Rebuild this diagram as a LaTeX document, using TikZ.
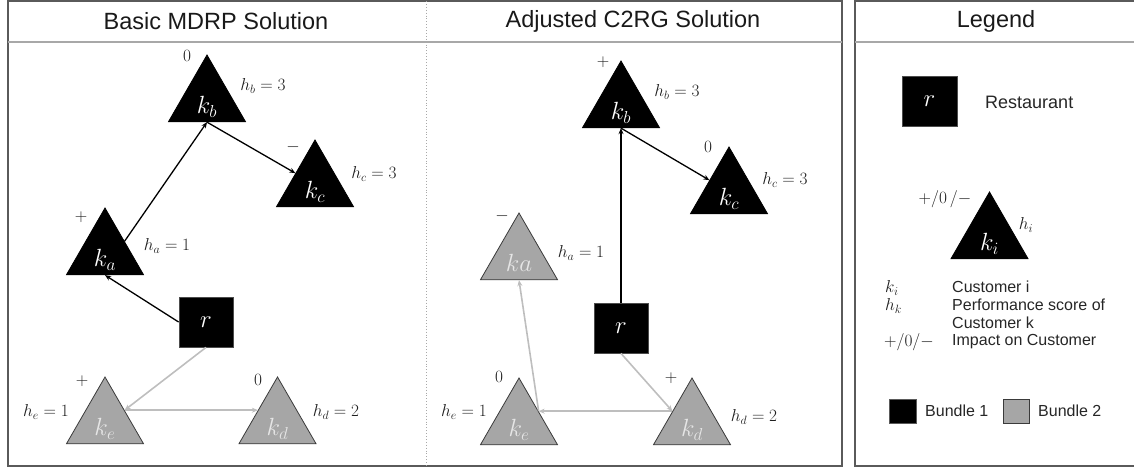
\documentclass[tikz,border=0pt]{standalone}
\usepackage{fontspec}
\setmainfont{Liberation Sans}
\usetikzlibrary{shapes.geometric,arrows.meta}
\definecolor{bgray}{HTML}{A6A6A6}
\definecolor{tborder}{HTML}{3A3A3A}
\definecolor{tlight}{HTML}{E6E6E6}
\definecolor{agray}{HTML}{BEBEBE}
\definecolor{framec}{HTML}{5A5A5A}
\definecolor{hlinec}{HTML}{A8A8A8}
\definecolor{labc}{HTML}{1E1E1E}
\newcommand\trilab[1]{\raisebox{-14pt}[0pt][0pt]{$#1$}}
\begin{document}
\begin{tikzpicture}[x=1pt,y=-1pt,
  tri/.style={regular polygon, regular polygon sides=3, minimum size=89pt, inner sep=0pt, line width=0.8pt, font=\fontsize{25}{28}\selectfont},
  bone/.style={tri, fill=black, draw=black, text=white},
  btwo/.style={tri, fill=bgray, draw=tborder, text=tlight},
  rest/.style={rectangle, fill=black, draw=black!70, line width=0.8pt, minimum width=54pt, minimum height=50pt, inner sep=0pt, text=white, font=\fontsize{26}{30}\selectfont},
  barrow/.style={-{Stealth[length=6pt,width=5pt]}, line width=1.3pt, black},
  garrow/.style={-{Stealth[length=6pt,width=5pt]}, line width=1.6pt, agray},
  hlab/.style={text=labc, font=\fontsize{17}{20}\selectfont, inner sep=0pt},
  slab/.style={text=labc, font=\fontsize{16}{18}\selectfont, inner sep=0pt},
  head/.style={font=\fontsize{23.5}{27}\selectfont, text=black!90, inner sep=0pt},
  ltext/.style={font=\fontsize{16}{18}\selectfont, text=black!85, anchor=west, inner sep=0pt},
  frame/.style={draw=framec, line width=1.5pt},
  hline/.style={draw=hlinec, line width=1.5pt}
]
\useasboundingbox (0,0) rectangle (1134,471);
% frames
\draw[frame] (8,1) rectangle (842,466);
\draw[hline] (8,42) -- (842,42);
\draw[draw=hlinec, line width=0.9pt, dotted] (426,1) -- (426,466);
\draw[frame] (855,1) rectangle (1150,466);
\draw[hline] (855,42) -- (1134,42);
% headings
\node[head] (h1) at (216,21) {Basic MDRP Solution};
\node[head] (h2) at (633,21) {Adjusted C2RG Solution};
\node[head] (h3) at (996,21) {Legend};

% ---------- left panel ----------
\node[bone] (Lkb) at (207,99.5) {\trilab{k_b}};
\node[bone] (Lkc) at (315,184.5) {\trilab{k_c}};
\node[bone] (Lka) at (105,252.5) {\trilab{k_a}};
\node[btwo] (Lke) at (105,421.5) {\trilab{k_e}};
\node[btwo] (Lkd) at (277.5,421.5) {\trilab{k_d}};
\node[rest] (Lr) at (206,322) {$r$};

\node[slab] (Lsb) at (187,56) {$0$};
\node[hlab] (Lhb) at (263,86) {$h_b = 3$};
\node[slab] (Lsc) at (293,147) {$-$};
\node[hlab] (Lhc) at (374,174) {$h_c = 3$};
\node[slab] (Lsa) at (81,217) {$+$};
\node[hlab] (Lha) at (167,246) {$h_a = 1$};
\node[slab] (Lse) at (82,381) {$+$};
\node[hlab] (Lhe) at (46,412) {$h_e = 1$};
\node[slab] (Lsd) at (258,380) {$0$};
\node[hlab] (Lhd) at (336,412) {$h_d = 2$};

\draw[barrow] (Lka.side 3) -- (Lkb.side 2);
\draw[barrow] (Lkb.side 2) -- (Lkc.side 1);
\draw[barrow] (Lr.west) -- (Lka.side 2);
\draw[garrow] (Lr.south) -- (Lke.side 3);
\draw[garrow] (Lke.side 3) -- (Lkd.side 1);

% ---------- middle panel ----------
\node[bone] (Mkb) at (621,105.5) {\trilab{k_b}};
\node[bone] (Mkc) at (729,191.5) {\trilab{k_c}};
\node[btwo] (Mka) at (519,257.5) {\trilab{ka}};
\node[btwo] (Mke) at (519,422.5) {\trilab{k_e}};
\node[btwo] (Mkd) at (692,422.5) {\trilab{k_d}};
\node[rest] (Mr) at (621,328) {$r$};

\node[slab] (Msb) at (603,62) {$+$};
\node[hlab] (Mhb) at (677,92) {$h_b = 3$};
\node[slab] (Msc) at (708,147) {$0$};
\node[hlab] (Mhc) at (785,180) {$h_c = 3$};
\node[slab] (Msa) at (502,216) {$-$};
\node[hlab] (Mha) at (581,253) {$h_a = 1$};
\node[slab] (Mse) at (499,377) {$0$};
\node[hlab] (Mhe) at (464,412) {$h_e = 1$};
\node[slab] (Msd) at (671,378) {$+$};
\node[hlab] (Mhd) at (754,417) {$h_d = 2$};

\draw[barrow] (Mr.north) -- (Mkb.side 2);
\draw[barrow] (Mkb.side 2) -- (Mkc.side 1);
\draw[garrow] (Mr.south) -- (Mkd.side 1);
\draw[garrow] (Mkd.side 1) -- (Mke.side 3);
\draw[garrow] (Mke.side 3) -- (Mka.side 2);

% ---------- legend ----------
\node[rest, minimum width=55pt] (Gr) at (929.5,101) {$r$};
\node[font=\fontsize{18}{20}\selectfont, text=black!85, anchor=west, inner sep=0pt] (Grt) at (985,102) {Restaurant};
\node[bone] (Gki) at (989.5,236.5) {\trilab{k_i}};
\node[hlab] (Gs) at (945,199) {$+/0\,/{-}$};
\node[hlab] (Ghi) at (1026,225) {$h_i$};

\node[hlab, anchor=west] (Gl1) at (885,288) {$k_i$};
\node[ltext] (Gt1) at (952,287) {Customer i};
\node[hlab, anchor=west] (Gl2) at (885,306) {$h_k$};
\node[ltext] (Gt2) at (952,305) {Performance score of};
\node[ltext] (Gt3) at (952,323) {Customer k};
\node[hlab, anchor=west] (Gl4) at (884,342) {$+/0/{-}$};
\node[ltext] (Gt4) at (952,342) {Impact on Customer};

\node[rectangle, fill=black, draw=framec, line width=0.8pt, minimum width=27pt, minimum height=24pt, inner sep=0pt] (Gb1) at (902.5,411) {};
\node[ltext] (Gb1t) at (925,411) {Bundle 1};
\node[rectangle, fill=bgray, draw=tborder, line width=0.8pt, minimum width=26pt, minimum height=24pt, inner sep=0pt] (Gb2) at (1016,411) {};
\node[ltext] (Gb2t) at (1038,411) {Bundle 2};
\end{tikzpicture}
\end{document}
